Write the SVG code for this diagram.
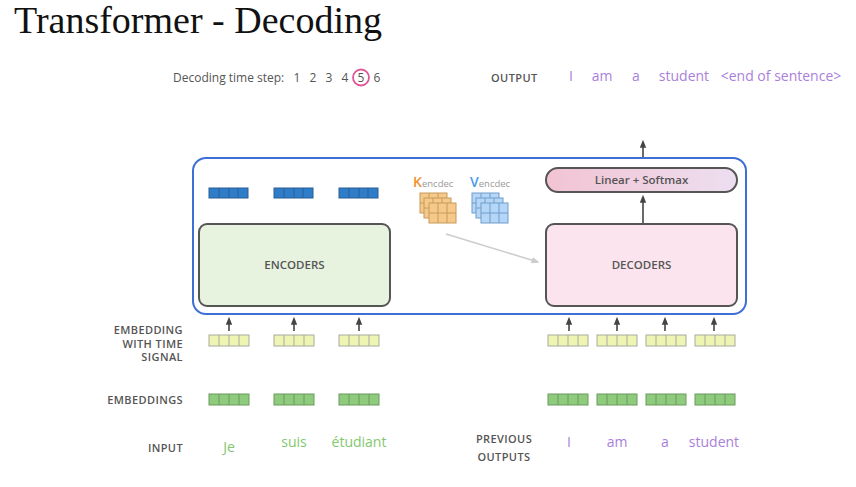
<svg xmlns="http://www.w3.org/2000/svg" width="856" height="487" viewBox="0 0 856 487">
<defs>
<linearGradient id="lsg" x1="0" y1="0" x2="1" y2="0">
<stop offset="0" stop-color="#f2c3d3"/><stop offset="1" stop-color="#ecdff0"/>
</linearGradient>
<marker id="ah" viewBox="0 0 10 10" refX="6" refY="5" markerUnits="userSpaceOnUse" markerWidth="8" markerHeight="8" orient="auto">
<path d="M0,1 L10,5 L0,9 z" fill="#444"/>
</marker>
<marker id="ahg" viewBox="0 0 10 10" refX="8" refY="5" markerUnits="userSpaceOnUse" markerWidth="8" markerHeight="8" orient="auto">
<path d="M0,1 L10,5 L0,9 z" fill="#ccc"/>
</marker>
<g id="yb"><rect x="0" y="0" width="40" height="11" fill="#eef5b3" stroke="#a9a9a0" stroke-width="1"/><path d="M10,0V11M20,0V11M30,0V11" stroke="#a9a9a0" stroke-width="1"/></g>
<g id="gb"><rect x="0" y="0" width="40" height="11" fill="#8fcb7c" stroke="#6a9a5e" stroke-width="1"/><path d="M10,0V11M20,0V11M30,0V11" stroke="#6a9a5e" stroke-width="1"/></g>
<g id="bb"><rect x="0" y="0" width="39" height="10" fill="#2f7cc9" stroke="#2a5f95" stroke-width="1"/><path d="M10,0V10M20,0V10M29,0V10" stroke="#2a5f95" stroke-width="1"/></g>
<g id="kg"><rect x="0" y="0" width="27" height="20" fill="#f5c98a" stroke="#c89a5a" stroke-width="1"/><path d="M9,0V20M18,0V20M0,10H27" stroke="#c89a5a" stroke-width="1"/></g>
<g id="vg"><rect x="0" y="0" width="27" height="20" fill="#b6d6f7" stroke="#6f9dcc" stroke-width="1"/><path d="M9,0V20M18,0V20M0,10H27" stroke="#6f9dcc" stroke-width="1"/></g>
</defs>
<style>
.lab{font-family:"Open Sans","Liberation Sans",sans-serif;font-size:11px;font-weight:600;fill:#555;letter-spacing:0.4px}
.num{font-family:"Open Sans","Liberation Sans",sans-serif;font-size:12px;fill:#555}
.pur{font-family:"Open Sans","Liberation Sans",sans-serif;font-size:14px;fill:#a97fdb}
.grn{font-family:"Open Sans","Liberation Sans",sans-serif;font-size:14px;fill:#82c86f}
.box{font-family:"Open Sans","Liberation Sans",sans-serif;font-size:11.5px;font-weight:600;fill:#555}
.arr{stroke:#444;stroke-width:1.6;fill:none;marker-end:url(#ah)}
</style>
<rect width="856" height="487" fill="#ffffff"/>
<text x="14" y="33" font-family="Liberation Serif, serif" font-size="38" fill="#111">Transformer - Decoding</text>

<g id="timestep">
<text x="173" y="82" class="num">Decoding time step:</text>
<text y="82" class="num" text-anchor="middle"><tspan x="297">1</tspan><tspan x="313">2</tspan><tspan x="329">3</tspan><tspan x="345">4</tspan><tspan x="361">5</tspan><tspan x="377">6</tspan></text>
<circle cx="361" cy="77.5" r="8" fill="none" stroke="#e0559a" stroke-width="1.8"/>
</g>

<g id="output">
<text x="491" y="82" class="lab">OUTPUT</text>
<text x="571" y="81" class="pur" text-anchor="middle">I</text>
<text x="602" y="81" class="pur" text-anchor="middle">am</text>
<text x="636" y="81" class="pur" text-anchor="middle">a</text>
<text x="684" y="81" class="pur" text-anchor="middle">student</text>
<text x="781" y="81" class="pur" text-anchor="middle">&lt;end of sentence&gt;</text>
</g>

<g id="stack">
<rect x="193" y="158" width="553" height="156" rx="13" fill="#fff" stroke="#3d6fd6" stroke-width="2"/>
</g>

<g id="encoders">
<rect x="199" y="224" width="191" height="82" rx="8" fill="#e7f2df" stroke="#555" stroke-width="2"/>
<text x="294.5" y="269" class="box" text-anchor="middle">ENCODERS</text>
</g>

<g id="decoders">
<rect x="546" y="224" width="191" height="82" rx="8" fill="#fbe4ee" stroke="#555" stroke-width="2"/>
<text x="641.5" y="269" class="box" text-anchor="middle">DECODERS</text>
</g>

<g id="linear-softmax">
<rect x="546" y="168" width="191" height="24" rx="12" fill="url(#lsg)" stroke="#555" stroke-width="2"/>
<text x="641.5" y="184" class="box" text-anchor="middle">Linear + Softmax</text>
</g>

<g id="enc-outputs">
<use href="#bb" x="209" y="188"/>
<use href="#bb" x="274" y="188"/>
<use href="#bb" x="339" y="188"/>
</g>

<g id="kv">
<text x="413" y="187" font-family="Open Sans, Liberation Sans, sans-serif" font-size="14" font-weight="600" fill="#f0922d">K<tspan font-size="9.5" font-weight="400" fill="#999">encdec</tspan></text>
<text x="470" y="187" font-family="Open Sans, Liberation Sans, sans-serif" font-size="14" font-weight="600" fill="#4a9be8">V<tspan font-size="9.5" font-weight="400" fill="#999">encdec</tspan></text>
<use href="#kg" x="420" y="193"/>
<use href="#kg" x="424" y="198"/>
<use href="#kg" x="429" y="203"/>
<use href="#vg" x="472" y="193"/>
<use href="#vg" x="476" y="198"/>
<use href="#vg" x="481" y="203"/>
</g>

<g id="connectors">
<line x1="446" y1="234" x2="538" y2="262" stroke="#ccc" stroke-width="1.5" marker-end="url(#ahg)"/>
<line x1="643" y1="223" x2="643" y2="198" class="arr"/>
<line x1="643" y1="157" x2="643" y2="143" class="arr"/>
<line x1="229" y1="331" x2="229" y2="320" class="arr"/>
<line x1="294" y1="331" x2="294" y2="320" class="arr"/>
<line x1="359" y1="331" x2="359" y2="320" class="arr"/>
<line x1="569" y1="331" x2="569" y2="320" class="arr"/>
<line x1="617" y1="331" x2="617" y2="320" class="arr"/>
<line x1="665" y1="331" x2="665" y2="320" class="arr"/>
<line x1="714" y1="331" x2="714" y2="320" class="arr"/>
</g>

<g id="labels">
<text class="lab" text-anchor="end"><tspan x="183" y="334">EMBEDDING</tspan><tspan x="183" y="347.5">WITH TIME</tspan><tspan x="183" y="361">SIGNAL</tspan></text>
<text x="183" y="404" class="lab" text-anchor="end">EMBEDDINGS</text>
<text x="183" y="452" class="lab" text-anchor="end">INPUT</text>
<text class="lab" text-anchor="middle"><tspan x="504" y="443">PREVIOUS</tspan><tspan x="504" y="461">OUTPUTS</tspan></text>
</g>

<g id="enc-embeddings">
<use href="#yb" x="209" y="335"/>
<use href="#yb" x="274" y="335"/>
<use href="#yb" x="339" y="335"/>
<use href="#gb" x="209" y="394"/>
<use href="#gb" x="274" y="394"/>
<use href="#gb" x="339" y="394"/>
<text x="229" y="452" class="grn" text-anchor="middle">Je</text>
<text x="294" y="447" class="grn" text-anchor="middle">suis</text>
<text x="359" y="447" class="grn" text-anchor="middle">étudiant</text>
</g>

<g id="dec-embeddings">
<use href="#yb" x="548" y="335"/>
<use href="#yb" x="597" y="335"/>
<use href="#yb" x="646" y="335"/>
<use href="#yb" x="695" y="335"/>
<use href="#gb" x="548" y="394"/>
<use href="#gb" x="597" y="394"/>
<use href="#gb" x="646" y="394"/>
<use href="#gb" x="695" y="394"/>
<text x="569" y="447" class="pur" text-anchor="middle">I</text>
<text x="617" y="447" class="pur" text-anchor="middle">am</text>
<text x="665" y="447" class="pur" text-anchor="middle">a</text>
<text x="714" y="447" class="pur" text-anchor="middle">student</text>
</g>
</svg>
